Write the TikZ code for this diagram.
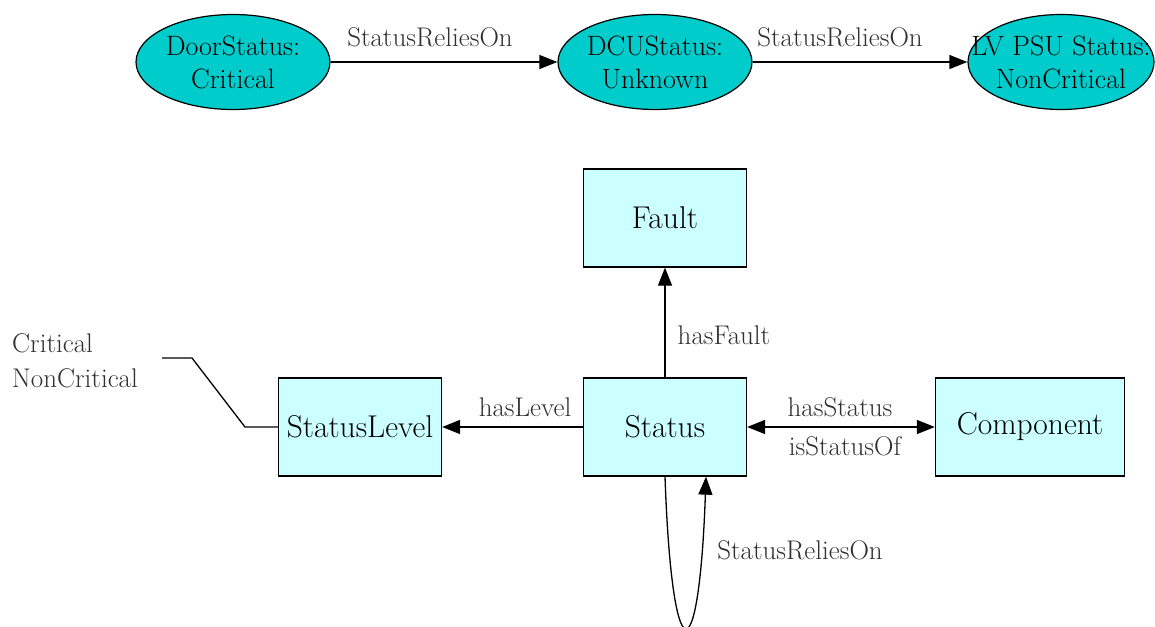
\documentclass[tikz,border=0pt]{standalone}
\usetikzlibrary{arrows.meta,shapes.geometric}
\definecolor{stateFill}{HTML}{00CCCC}
\definecolor{classFill}{HTML}{CCFFFF}
\definecolor{labelInk}{HTML}{303030}
\tikzset{
  state/.style={ellipse, draw, line width=1.2pt, fill=stateFill, inner sep=0pt,
    minimum width=194pt, minimum height=95pt, align=center,
    font=\fontsize{28}{33}\selectfont},
  classbox/.style={rectangle, draw, line width=1.3pt, fill=classFill, inner sep=0pt,
    minimum width=163pt, minimum height=98pt, font=\fontsize{31.5}{36}\selectfont},
  edgelabel/.style={font=\fontsize{27}{30}\selectfont, text=labelInk, inner sep=0pt},
  tip/.tip={Triangle[length=18pt,width=14pt]},
  arr/.style={line width=1.3pt, -tip},
  link/.style={line width=1.3pt},
}
\begin{document}
\begin{tikzpicture}[x=1pt,y=-1pt]
\useasboundingbox[fill=white] (0,0) rectangle (1155,626);
\clip (0,0) rectangle (1155,626);

% instance chain
\node[state] (door) at (233,62) {DoorStatus:\\Critical};
\node[state] (dcu) at (655,62) {DCUStatus:\\Unknown};
\node[state, minimum width=186pt, inner xsep=-25pt] (lvpsu) at (1061,62) {LV PSU Status:\\NonCritical};
\draw[arr] (door) -- (dcu);
\draw[arr] (dcu) -- (lvpsu);
\node[edgelabel] (l1) at (430,37) {StatusReliesOn};
\node[edgelabel] (l2) at (840,37) {StatusReliesOn};

% class diagram
\node[classbox] (fault) at (665,218) {Fault};
\node[classbox] (status) at (665,427) {Status};
\node[classbox] (level) at (360,427) {StatusLevel};
\node[classbox, minimum width=189pt] (comp) at (1030,427) {Component};

\draw[arr] (status) -- (fault);
\node[edgelabel] (l3) at (724,335) {hasFault};
\draw[arr] (status) -- (level);
\node[edgelabel] (l4) at (525,407) {hasLevel};
\draw[line width=1.3pt, tip-tip] (status) -- (comp);
\node[edgelabel] (l5) at (840,407) {hasStatus};
\node[edgelabel] (l6) at (845,446) {isStatusOf};

% self loop
\coordinate (loopEnd) at ([xshift=41pt]status.south);
\draw[arr] (status.south) .. controls ++(7,200) and ++(-7,200) .. (loopEnd);
\node[edgelabel] (l7) at (800,550) {StatusReliesOn};

% value list of StatusLevel
\node[edgelabel, anchor=west] (v1) at (12,343) {Critical};
\node[edgelabel, anchor=west] (v2) at (12,378) {NonCritical};
\coordinate (vA) at (162,358);
\coordinate (vB) at (192,358);
\coordinate (vC) at (245,427);
\draw[link] (vA) -- (vB) -- (vC) -- (level.west);
\end{tikzpicture}
\end{document}
